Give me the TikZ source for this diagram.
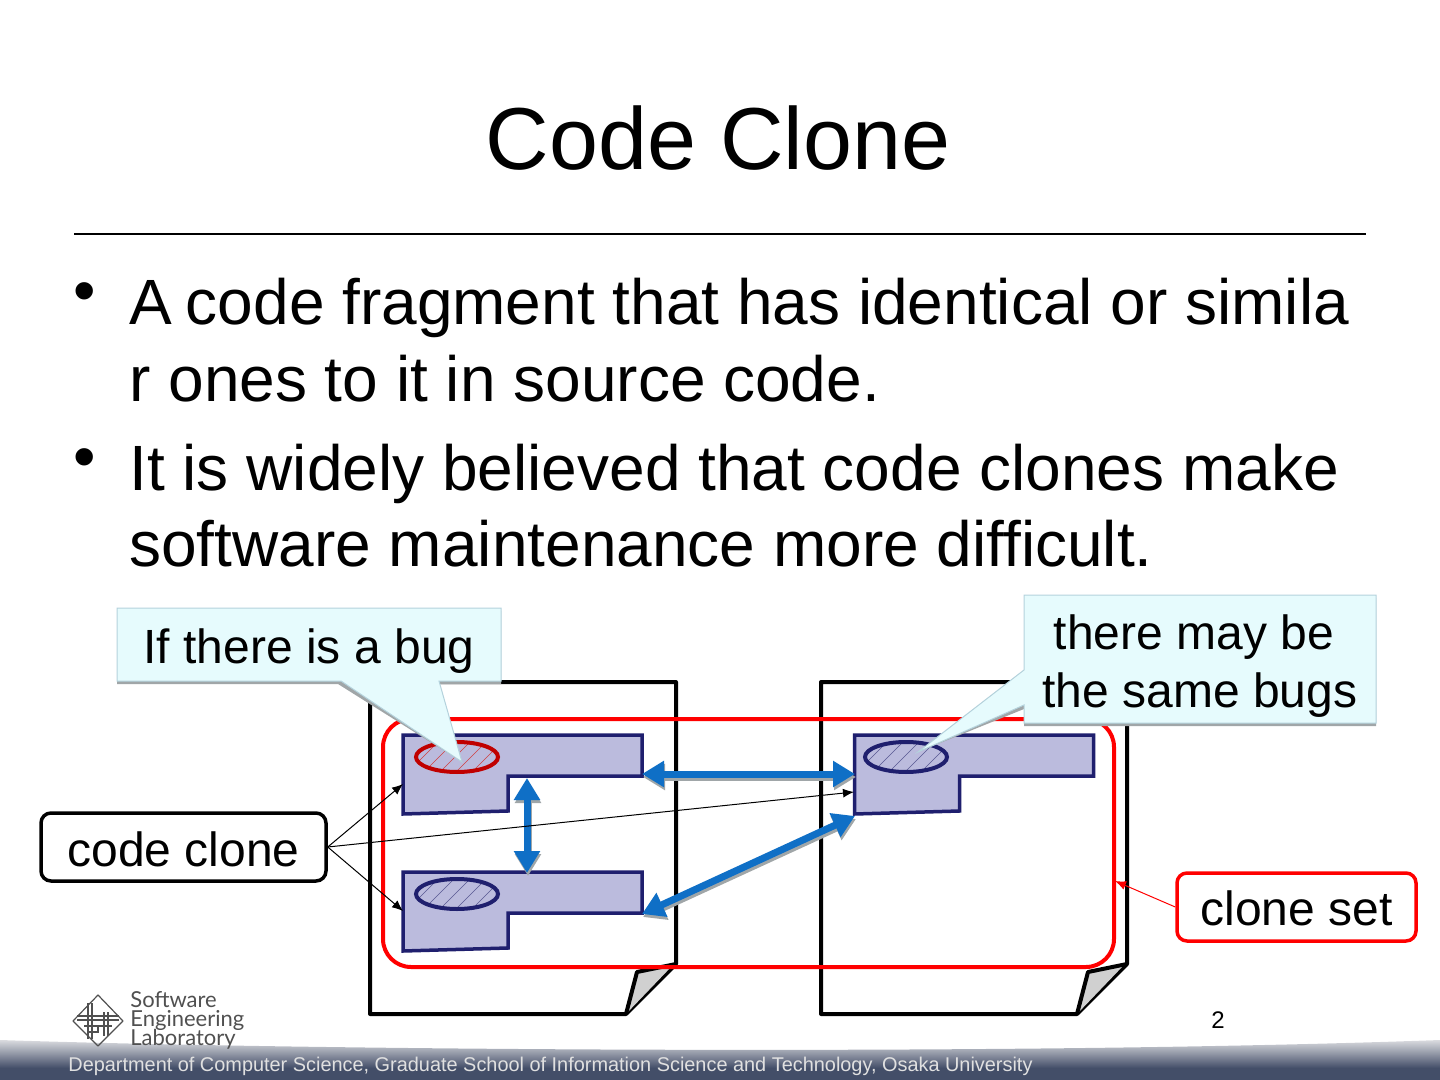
\documentclass[tikz,border=0pt]{standalone}
\usepackage{fontspec}
\setmainfont{Liberation Sans}
\newfontfamily\logofont{Lato}
\usetikzlibrary{arrows.meta,positioning}

\definecolor{fragfill}{HTML}{BBBBDD}
\definecolor{fragline}{HTML}{1F1F6E}
\definecolor{darkred}{HTML}{C00000}
\definecolor{linkblue}{HTML}{0F6FC6}
\definecolor{calloutfill}{HTML}{E6FBFD}
\definecolor{calloutline}{HTML}{B4D2DC}
\definecolor{foldgray}{HTML}{D0D0D0}
\definecolor{bandtop}{HTML}{DADBDF}
\definecolor{bandlow}{HTML}{434E68}
\definecolor{shadowgray}{HTML}{A0A6A8}
\definecolor{logogray}{HTML}{505050}

\newcommand*{\titlefont}{\fontsize{44}{44}\selectfont}
\newcommand*{\bodyfont}{\fontsize{32}{32}\selectfont}
\newcommand*{\notefont}{\fontsize{24}{29}\selectfont}
\setlength{\lineskiplimit}{-6pt}

\begin{document}
\begin{tikzpicture}
[
	x=0.5pt,
	y=-0.5pt,
	bodyline/.style={anchor=base west,inner sep=0pt,font=\bodyfont},
	bullet/.style={anchor=base,inner sep=0pt,font=\bodyfont},
	notebox/.style={draw,rounded corners=5pt,line width=1.75pt,fill=white,inner sep=0pt,minimum height=34pt,font=\notefont},
	calloutshape/.style={fill=calloutfill,draw=calloutline,line width=0.5pt},
	calloutshadow/.style={fill=shadowgray},
	linkarrow/.style={{Triangle[width=12.5pt,length=11pt]}-{Triangle[width=12.5pt,length=11pt]},line width=3.5pt},
	pointer/.style={-{Latex[length=5.5pt,width=4.5pt]},line width=0.5pt},
	page/.style={draw=black,line width=2pt,line join=round,fill=white},
	frag/.style={draw=fragline,fill=fragfill,line width=1.75pt,line join=miter},
	clonemark/.style={line width=2pt},
	low/.style={shift={(1,3)}}
]

	\useasboundingbox (0,0) rectangle (1440,1080);

	% title and text
	\node[anchor=base,inner sep=0pt,font=\titlefont] (title) at (718,170) {Code Clone};
	\draw[line width=1pt] (74,234) -- (1366,234);
	\node[bullet] (dota) at (85,313) {•};
	\node[bodyline] (linea) at (129,325) {A\kern-2pt{} code fragment that has identical or simila};
	\node[bodyline] (lineb) at (129,401) {r ones to it in source code.};
	\node[bullet] (dotb) at (85,479) {•};
	\node[bodyline] (linec) at (129,490) {It is widely believed that code clones make};
	\node[bodyline] (lined) at (129,566) {software maintenance more difficult.};

	% source files
	\foreach \x in {0,451} {
		\begin{scope}[xshift=\x*0.5pt]
			\draw[page] (370,682) -- (676,682) -- (676,964) -- (626,1014) -- (370,1014) -- cycle;
			\fill[foldgray] (637,972) -- (672,966) -- (626,1014) -- cycle;
			\draw[line width=2pt,line join=round] (676,964) -- (637,972) -- (626,1014);
		\end{scope}
	}

	% clone set outline
	\draw[red,line width=2pt,rounded corners=14pt] (383,719) rectangle (1114,967);

	% code fragments
	\foreach \name/\x/\y/\e/\col in {fraga/0/0/0/darkred,fragb/0/137/0/fragline,fragc/451.5/0/-2.5/fragline} {
		\begin{scope}[shift={(\x,\y)}]
			\draw[frag] (403,735) -- (642,735) -- (642,776) -- (508,776) -- (508,811) -- (403,814) -- cycle;
			\coordinate (\name right) at (642,774);
			\coordinate (\name in) at (403,784);
			\begin{scope}[xshift=\e*0.5pt]
				\begin{scope}
					\clip (457,757) ellipse (41 and 15);
					\foreach \s in {0,16,...,112} {
						\draw[\col!75,line width=0.25pt] (400+\s,780) -- (440+\s,740);
					}
				\end{scope}
				\draw[\col,clonemark] (457,757) ellipse (41 and 15);
			\end{scope}
		\end{scope}
	}

	% clone pair links
	\coordinate (fragaend) at (527,778);
	\coordinate (fragbend) at (527,873);
	\coordinate (fragcend) at (855,774);
	\coordinate (fragclow) at (855,816);
	\coordinate (fragbright) at (642,914);
	\foreach \a/\b in {fragaright/fragcend,fragaend/fragbend,fragbright/fragclow} {
		\draw[linkarrow,shadowgray] ([low]\a) -- ([low]\b);
	}
	\foreach \a/\b in {fragaright/fragcend,fragaend/fragbend,fragbright/fragclow} {
		\draw[linkarrow,linkblue] (\a) -- (\b);
	}

	% labels with leaders
	\node[notebox,draw=black,minimum width=142.5pt] (codeclone) at (183.5,847) {\raisebox{-1pt}[\height][\depth]{code clone}};
	\node[notebox,draw=red,minimum width=119.5pt] (cloneset) at (1296.5,907) {\raisebox{-0.5pt}[\height][\depth]{clone set}};
	\coordinate (fragbin) at (403,911);
	\coordinate (fragcin) at (854,792);
	\coordinate (setedge) at (1115,881);
	\foreach \b in {fragain,fragbin,fragcin} {
		\draw[pointer] (codeclone.east) -- (\b);
	}
	\draw[pointer,red] (cloneset.west) -- (setedge);

	% callouts
	\coordinate (bugtip) at (462,762);
	\coordinate (sametip) at (918,752);
	\fill[calloutshadow] (117,611) -- (501,611) -- (501,684) -- (439,684) -- (bugtip) -- (338,684) -- (117,684) -- cycle;
	\draw[calloutshape] (117,608) -- (501,608) -- (501,681) -- (439,681) -- (bugtip) -- (341,681) -- (117,681) -- cycle;
	\node[inner sep=0pt,anchor=base,font=\notefont] (bugnote) at (309,663) {If there is a bug};
	\fill[calloutshadow] (1024,598) -- (1376,598) -- (1376,726) -- (1024,726) -- (1024,709) -- (sametip) -- (1024,670) -- cycle;
	\draw[calloutshape] (1024,595) -- (1376,595) -- (1376,723) -- (1024,723) -- (1024,705) -- (sametip) -- (1024,670) -- cycle;
	\node[inner sep=0pt,anchor=base,font=\notefont] (samea) at (1194,649) {there may be};
	\node[inner sep=0pt,anchor=base,font=\notefont] (sameb) at (1200,707) {the same bugs};

	% footer band
	\shade[top color=bandtop,bottom color=bandlow]
		(0,1040) .. controls (300,1050) and (1000,1056) .. (1440,1040) -- (1440,1068) -- (0,1068) -- cycle;
	\fill[bandlow] (0,1067.5) rectangle (1440,1080);
	\node[anchor=base west,inner sep=0pt,text=black!12,font=\fontsize{9.95}{12}\selectfont] (dept) at (68,1071) {Department of Computer Science, Graduate School of Information Science and Technology, Osaka University};
	\node[anchor=base,inner sep=0pt,font=\fontsize{12}{14}\selectfont] (pageno) at (1218,1028) {2};

	% logo
	\begin{scope}[logogray,line width=0.6pt]
		\draw[line join=round] (98,995) -- (123,1021) -- (98,1046) -- (73,1021) -- cycle;
		\foreach \y in {1016,1020} {
			\draw (77,\y) -- (119,\y);
		}
		\draw (84,1026) -- (112,1026);
		\foreach \x in {88,92} {
			\draw (\x,1003) -- (\x,1039);
		}
		\foreach \x in {104,108} {
			\draw (\x,1012) -- (\x,1036);
		}
		\draw (88,1032) rectangle (98,1026);
	\end{scope}
	\node[anchor=north west,inner sep=0pt,align=left,text=logogray,font=\logofont\fontsize{11}{9.5}\selectfont] (logotext) at (130,991) {Software\\Engineering\\Laboratory};

\end{tikzpicture}
\end{document}
